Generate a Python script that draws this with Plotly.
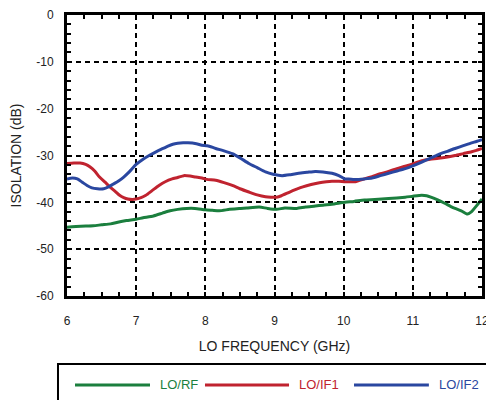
import plotly.graph_objects as go

# LO frequency sweep (GHz) and measured isolation (dB) for each port pair
freq_rf = [6.0, 6.2, 6.38, 6.5, 6.63, 6.75, 6.86, 7.0, 7.1, 7.25, 7.38, 7.49, 7.6, 7.73, 7.85,
           8.0, 8.1, 8.2, 8.35, 8.49, 8.6, 8.78, 8.9, 9.03, 9.15, 9.32, 9.45, 9.59, 9.7, 9.83,
           10.02, 10.15, 10.3, 10.45, 10.65, 10.89, 11.0, 11.13, 11.2, 11.26, 11.36, 11.46,
           11.55, 11.61, 11.7, 11.79, 11.85, 11.89, 11.95, 12.0]
lo_rf = [-45.3, -45.1, -45.0, -44.8, -44.6, -44.2, -43.9, -43.6, -43.3, -42.9, -42.3, -41.8, -41.5,
         -41.3, -41.3, -41.6, -41.7, -41.8, -41.5, -41.3, -41.2, -41.0, -41.3, -41.5, -41.2, -41.3,
         -41.0, -40.8, -40.6, -40.4, -40.0, -39.8, -39.5, -39.4, -39.2, -38.9, -38.7, -38.5, -38.6,
         -38.9, -39.5, -40.2, -40.9, -41.3, -41.8, -42.5, -42.0, -41.3, -40.2, -39.3]

freq_if1 = [6.0, 6.1, 6.19, 6.27, 6.33, 6.4, 6.47, 6.55, 6.62, 6.7, 6.76, 6.82, 6.88, 6.95, 7.0,
            7.07, 7.14, 7.23, 7.33, 7.42, 7.52, 7.6, 7.69, 7.78, 7.86, 7.95, 8.02, 8.15, 8.27,
            8.39, 8.5, 8.63, 8.75, 8.87, 8.95, 9.03, 9.1, 9.22, 9.32, 9.41, 9.53, 9.65, 9.75,
            9.83, 9.93, 10.02, 10.1, 10.17, 10.3, 10.41, 10.53, 10.65, 10.77, 10.89, 11.0, 11.13,
            11.25, 11.37, 11.5, 11.61, 11.73, 11.85, 11.92, 12.0]
lo_if1 = [-31.7, -31.6, -31.6, -31.9, -32.4, -33.3, -34.6, -35.7, -36.7, -37.7, -38.5, -39.0, -39.3,
          -39.4, -39.3, -39.0, -38.5, -37.5, -36.4, -35.6, -35.0, -34.7, -34.3, -34.4, -34.6, -34.8,
          -35.1, -35.3, -35.8, -36.4, -37.1, -37.8, -38.4, -38.8, -38.9, -38.9, -38.6, -37.8, -37.2,
          -36.7, -36.2, -35.8, -35.6, -35.5, -35.5, -35.6, -35.6, -35.6, -35.0, -34.5, -33.9, -33.4,
          -32.8, -32.3, -31.8, -31.1, -30.8, -30.6, -30.3, -30.0, -29.6, -29.2, -28.9, -28.5]

freq_if2 = [6.0, 6.08, 6.15, 6.22, 6.29, 6.36, 6.44, 6.53, 6.6, 6.67, 6.75, 6.82, 6.9, 7.0, 7.1,
            7.2, 7.3, 7.39, 7.46, 7.53, 7.6, 7.68, 7.75, 7.87, 7.95, 8.03, 8.15, 8.27, 8.39, 8.5,
            8.63, 8.75, 8.87, 8.98, 9.11, 9.23, 9.35, 9.47, 9.59, 9.7, 9.83, 9.93, 10.02, 10.07,
            10.15, 10.22, 10.3, 10.41, 10.53, 10.65, 10.77, 10.89, 11.0, 11.13, 11.25, 11.37,
            11.5, 11.61, 11.73, 11.85, 11.92, 12.0]
lo_if2 = [-35.0, -34.8, -35.0, -35.7, -36.4, -36.9, -37.1, -37.1, -36.7, -36.1, -35.4, -34.6, -33.5,
          -31.9, -30.8, -29.9, -29.1, -28.5, -28.0, -27.6, -27.4, -27.3, -27.3, -27.5, -27.8, -27.9,
          -28.5, -29.0, -29.6, -30.5, -31.7, -32.6, -33.5, -34.0, -34.3, -34.1, -33.8, -33.6, -33.4,
          -33.5, -33.8, -34.3, -35.0, -35.0, -35.1, -35.1, -35.0, -34.8, -34.3, -33.8, -33.3, -32.8,
          -32.2, -31.4, -30.6, -29.8, -29.1, -28.5, -27.9, -27.3, -27.0, -26.6]

x_ticks = [6, 7, 8, 9, 10, 11, 12]
y_ticks = [0, -10, -20, -30, -40, -50, -60]

series = [
    ("LO/RF", freq_rf, lo_rf, "#1b7f3e"),
    ("LO/IF1", freq_if1, lo_if1, "#c0232f"),
    ("LO/IF2", freq_if2, lo_if2, "#2a47a0"),
]

FONT = "Liberation Sans, Arial, sans-serif"

fig = go.Figure()
for name, xs, ys, color in series:
    fig.add_trace(go.Scatter(x=xs, y=ys, mode="lines", name=name,
                             line=dict(color=color, width=3, shape="spline", smoothing=0.6),
                             showlegend=False))

axis_common = dict(
    showline=True, linecolor="black", linewidth=3, mirror="allticks",
    showgrid=True, gridcolor="black", gridwidth=2, griddash="5px,4px",
    ticks="inside", ticklen=0, tickcolor="black",
    zeroline=False, automargin=False, ticklabeloverflow="allow",
    tickfont=dict(family=FONT, size=12, color="#222"),
)

fig.update_xaxes(
    range=[6, 12], tickvals=x_ticks, ticktext=[str(v) for v in x_ticks],
    minor=dict(dtick=0.25, ticks="inside", ticklen=4, tickwidth=2, tickcolor="black", showgrid=False),
    ticklabelstandoff=12,
    title=dict(text="LO FREQUENCY (GHz)", font=dict(family=FONT, size=14, color="#222"), standoff=14),
    **axis_common,
)
fig.update_yaxes(
    range=[-60, 0], tickvals=y_ticks, ticktext=[str(v) for v in y_ticks],
    minor=dict(dtick=2, ticks="inside", ticklen=4, tickwidth=2, tickcolor="black", showgrid=False),
    ticklabelstandoff=8,
    title=dict(text="ISOLATION (dB)", font=dict(family=FONT, size=14, color="#222"), standoff=12),
    **axis_common,
)

# Boxed key below the plot
fig.add_shape(type="rect", xref="paper", yref="paper", x0=-0.0217, x1=1.03, y0=-0.42, y1=-0.242,
              line=dict(color="black", width=2), fillcolor="rgba(0,0,0,0)")
key_y = -0.3167
key_pos = [(0.0193, 0.2, 0.219), (0.3325, 0.535, 0.554), (0.6916, 0.872, 0.8916)]
for (name, _, _, color), (lx0, lx1, tx) in zip(series, key_pos):
    fig.add_shape(type="line", xref="paper", yref="paper", x0=lx0, x1=lx1, y0=key_y, y1=key_y,
                  line=dict(color=color, width=3))
    fig.add_annotation(xref="paper", yref="paper", x=tx, y=key_y, text=name, showarrow=False,
                       xanchor="left", yanchor="middle",
                       font=dict(family=FONT, size=13, color=color))

fig.update_layout(
    width=486, height=400,
    margin=dict(l=67, r=4, t=15, b=104),
    paper_bgcolor="white", plot_bgcolor="white",
    template="none", showlegend=False,
)

fig.write_html("out.html")
